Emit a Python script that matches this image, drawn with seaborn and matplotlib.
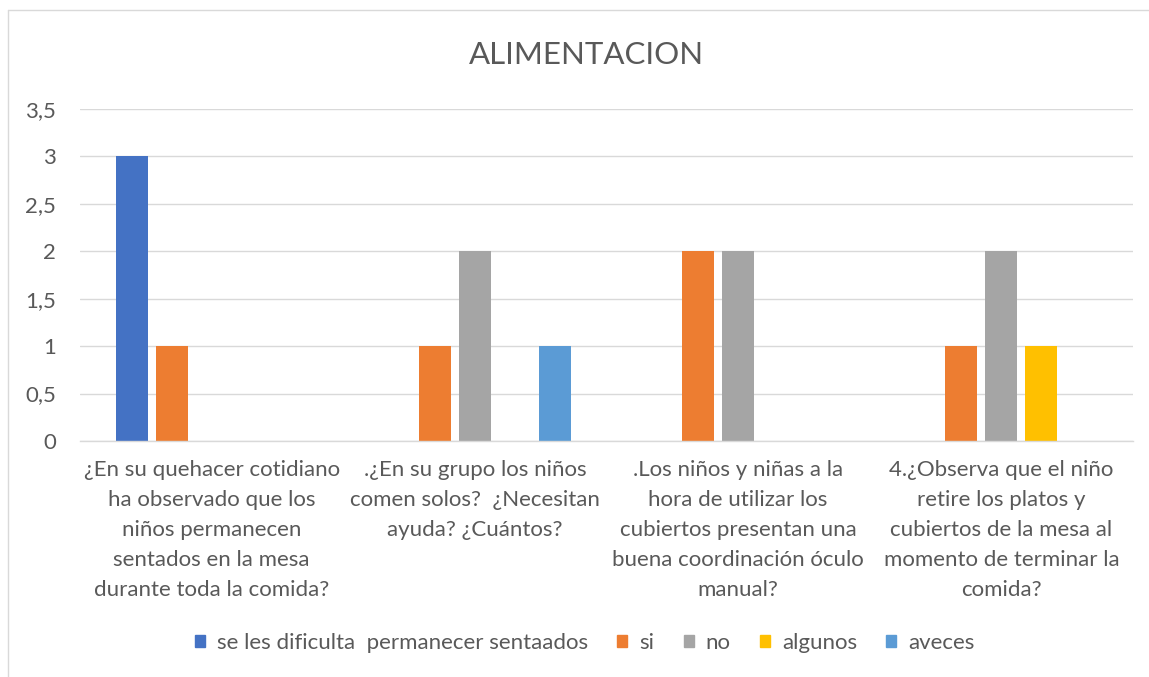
import matplotlib.pyplot as plt
import matplotlib.patches as mpatches
from matplotlib.lines import Line2D
import pandas as pd
import seaborn as sns

categories = [
    "¿En su quehacer cotidiano\nha observado que los\nniños permanecen\nsentados en la mesa\ndurante toda la comida?",
    ".¿En su grupo los niños\ncomen solos?  ¿Necesitan\nayuda? ¿Cuántos?",
    ".Los niños y niñas a la\nhora de utilizar los\ncubiertos presentan una\nbuena coordinación óculo\nmanual?",
    "4.¿Observa que el niño\nretire los platos y\ncubiertos de la mesa al\nmomento de terminar la\ncomida?",
]
series = ["se les dificulta  permanecer sentaados", "si", "no", "algunos", "aveces"]
dificulta = [3, 0, 0, 0]
si = [1, 1, 2, 1]
no = [0, 2, 2, 2]
algunos = [0, 0, 0, 1]
aveces = [0, 1, 0, 0]
colors = ["#4472C4", "#ED7D31", "#A5A5A5", "#FFC000", "#5B9BD5"]
yticks = [0, 0.5, 1, 1.5, 2, 2.5, 3, 3.5]

rows = []
for name, vals in zip(series, [dificulta, si, no, algunos, aveces]):
    for cat, v in zip(categories, vals):
        rows.append({"categoria": cat, "serie": name, "valor": v})
df = pd.DataFrame(rows)

sns.set_style("white")
plt.rcParams["font.family"] = ["Lato", "DejaVu Sans"]
text_color = "#595959"
fs = 16

fig = plt.figure(figsize=(11.49, 6.77), dpi=100)
ax = fig.add_axes([0.0696, 0.3486, 0.9165, 0.4904])

sns.barplot(data=df, x="categoria", y="valor", hue="serie", hue_order=series,
            palette=colors, width=0.76, gap=0.2, saturation=1, ax=ax,
            legend=False, linewidth=0)

ax.set_ylim(0, 3.5)
ax.set_xlim(-0.5, 3.5)
ax.set_yticks(yticks)
ax.set_yticklabels([f"{t:g}".replace(".", ",") for t in yticks])
ax.yaxis.grid(True, color="#D9D9D9", linewidth=1)
ax.set_axisbelow(True)
for s in ["top", "right", "left"]:
    ax.spines[s].set_visible(False)
ax.spines["bottom"].set_color("#D9D9D9")
ax.spines["bottom"].set_linewidth(1)
ax.tick_params(axis="both", length=0, colors=text_color, labelsize=fs)
ax.tick_params(axis="y", pad=17)
ax.tick_params(axis="x", pad=14)
ax.set_xlabel("")
ax.set_ylabel("")
for lbl in ax.get_xticklabels():
    lbl.set_horizontalalignment("center")
    lbl.set_multialignment("center")
    lbl.set_linespacing(1.62)

fig.suptitle("ALIMENTACION", x=0.51, y=0.919, va="center", fontsize=22.5,
             color=text_color)

handles = [mpatches.Patch(color=c, label=s) for c, s in zip(colors, series)]
fig.legend(handles=handles, loc="center", bbox_to_anchor=(0.509, 0.05), ncol=5,
           frameon=False, fontsize=fs, labelcolor=text_color,
           handlelength=0.45, handleheight=0.45, handletextpad=0.55,
           columnspacing=1.3)

# chart-area border (top and left edges only are visible in the picture)
fig.lines.append(Line2D([8 / 1149, 1], [1 - 10 / 677, 1 - 10 / 677],
                        transform=fig.transFigure, color="#D9D9D9", linewidth=1))
fig.lines.append(Line2D([8 / 1149, 8 / 1149], [0, 1 - 10 / 677],
                        transform=fig.transFigure, color="#D9D9D9", linewidth=1))

fig.savefig("out.png", dpi=100)
